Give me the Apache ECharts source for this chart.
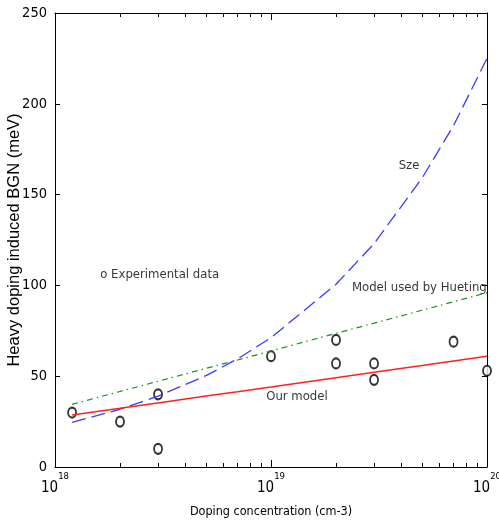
<!DOCTYPE html>
<html lang="en">
<head>
    <meta charset="UTF-8">
    <title>Heavy doping BGN</title>
    <style>
        html, body { margin: 0; padding: 0; background: #fff; }
        #chart { width: 499px; height: 524px; }
    </style>
</head>
<body>
<div id="chart"></div>
<script src="https://cdn.jsdelivr.net/npm/echarts@6.0.0/dist/echarts.min.js"></script>
<script>
    // experimental points (doping, BGN meV)
    var expData = [
        [1.2e18, 30], [2e18, 25], [3e18, 40], [3e18, 10],
        [1e19, 61], [2e19, 70], [2e19, 57], [3e19, 57], [3e19, 48],
        [7e19, 69], [1e20, 53]
    ];
    // curves
    var dopingX = [1.2e18, 2e18, 3e18, 5e18, 7e18, 1e19, 2e19, 3e19, 5e19, 7e19, 1e20];
    var szeY    = [24.6, 31.8, 39, 50.3, 59.5, 71.2, 100.6, 123, 159, 188, 225];
    var huetY   = [34.5, 41.6, 47.2, 54.3, 58.9, 63.9, 73.6, 79.2, 86.3, 91, 96];
    var oursY   = [28.6, 32.3, 35.3, 39.1, 41.5, 44.1, 49.2, 52.2, 55.9, 58.4, 61];
    var notes = [
        [1.62e18, 105.7, 'o Experimental data'],
        [3.9e19, 165.7, 'Sze'],
        [2.37e19, 99, 'Model used by Hueting'],
        [9.5e18, 38.5, 'Our model']
    ];
    var minorTicks = [2e18, 3e18, 4e18, 5e18, 6e18, 7e18, 8e18, 9e18,
                      2e19, 3e19, 4e19, 5e19, 6e19, 7e19, 8e19, 9e19];

    var font = "'DejaVu Sans Condensed', 'DejaVu Sans', sans-serif";
    var fontWide = "'Liberation Sans', Arial, sans-serif";

    function zip(xs, ys) {
        return xs.map(function (x, i) { return [x, ys[i]]; });
    }

    // minor ticks go on a plain value axis laid over the log axis (exponent space)
    var minorLog = minorTicks.map(function (v) { return Math.log10(v); });
    var tickLine = { color: '#000', width: 1 };

    var myChart = echarts.init(document.getElementById('chart'));
    var option = {
        animation: false,
        backgroundColor: '#fff',
        textStyle: { fontFamily: font },
        grid: { left: 55, right: 12, top: 13, bottom: 57, outerBoundsMode: 'none', containLabel: false },
        xAxis: [
            {
                type: 'log', logBase: 10, min: 1e18, max: 1e20,
                position: 'bottom',
                name: 'Doping concentration (cm-3)',
                nameLocation: 'middle', nameGap: 38,
                nameTextStyle: { color: '#000', fontSize: 12.5, fontFamily: font },
                axisLine: { show: true, onZero: false, lineStyle: tickLine },
                axisTick: { show: true, inside: true, length: 7, lineStyle: tickLine },
                minorTick: { show: false },
                splitLine: { show: false },
                axisLabel: {
                    color: '#000', margin: 5,
                    formatter: function (v) {
                        return '{b|10}{sup|' + Math.round(Math.log10(v)) + '}';
                    },
                    rich: {
                        b: { fontSize: 15, fontFamily: font, color: '#000', verticalAlign: 'bottom' },
                        sup: { fontSize: 9.5, verticalAlign: 'bottom', padding: [0, 0, 14, 0], fontFamily: font, color: '#000' }
                    }
                }
            },
            {
                type: 'value', min: 18, max: 20, position: 'bottom',
                axisLine: { show: false, onZero: false },
                axisLabel: { show: false },
                splitLine: { show: false },
                axisTick: { show: true, inside: true, length: 4, customValues: minorLog, lineStyle: tickLine }
            },
            {
                type: 'log', logBase: 10, min: 1e18, max: 1e20, position: 'top',
                axisLine: { show: true, onZero: false, lineStyle: tickLine },
                axisTick: { show: true, inside: true, length: 7, lineStyle: tickLine },
                axisLabel: { show: false },
                splitLine: { show: false }
            },
            {
                type: 'value', min: 18, max: 20, position: 'top',
                axisLine: { show: false, onZero: false },
                axisLabel: { show: false },
                splitLine: { show: false },
                axisTick: { show: true, inside: true, length: 4, customValues: minorLog, lineStyle: tickLine }
            }
        ],
        yAxis: [
            {
                type: 'value', min: 0, max: 250, interval: 50,
                position: 'left',
                name: 'Heavy doping induced BGN (meV)',
                nameLocation: 'middle', nameGap: 32, nameMoveOverlap: false,
                nameTextStyle: { color: '#000', fontSize: 16.5, fontFamily: fontWide },
                axisLine: { show: true, lineStyle: tickLine },
                axisTick: { show: true, inside: true, length: 5, lineStyle: tickLine },
                splitLine: { show: false },
                axisLabel: { color: '#000', fontSize: 14.5, margin: 8, fontFamily: font }
            },
            {
                type: 'value', min: 0, max: 250, interval: 50,
                position: 'right',
                axisLine: { show: true, lineStyle: tickLine },
                axisTick: { show: true, inside: true, length: 5, lineStyle: tickLine },
                splitLine: { show: false },
                axisLabel: { show: false }
            }
        ],
        series: [
            {
                name: 'Sze', type: 'line', data: zip(dopingX, szeY),
                symbol: 'none', smooth: false,
                lineStyle: { color: '#3a3aff', width: 1.3, type: [14, 6] }
            },
            {
                name: 'Hueting', type: 'line', data: zip(dopingX, huetY),
                symbol: 'none',
                lineStyle: { color: '#1f8f1f', width: 1.2, type: [6, 4, 1.5, 4] }
            },
            {
                name: 'Our model', type: 'line', data: zip(dopingX, oursY),
                symbol: 'none',
                lineStyle: { color: '#ff2020', width: 1.5 }
            },
            {
                name: 'Experimental', type: 'scatter', data: expData,
                symbol: 'emptyCircle', symbolSize: [8, 10],
                itemStyle: { color: '#000', borderColor: '#000', borderWidth: 1 }
            },
            {
                name: 'notes', type: 'scatter', symbolSize: 0, silent: true,
                data: notes.map(function (n) { return { value: [n[0], n[1]], name: n[2] }; }),
                label: {
                    show: true, position: 'right', distance: 0,
                    formatter: '{b}', color: '#000', fontSize: 13, fontFamily: font
                }
            }
        ]
    };
    myChart.setOption(option);
</script>
</body>
</html>
